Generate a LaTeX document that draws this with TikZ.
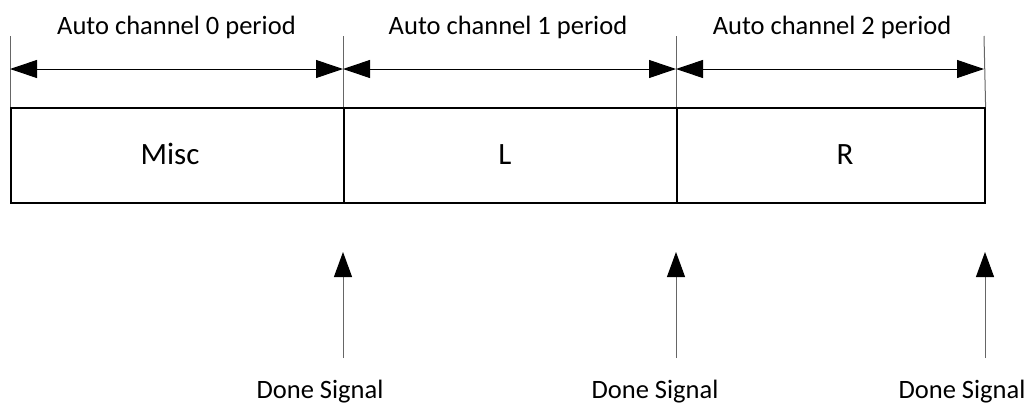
\documentclass[tikz,border=0pt]{standalone}
\usepackage{fontspec}
\setmainfont{Carlito}
\usetikzlibrary{arrows.meta}
\begin{document}
\begin{tikzpicture}[x=1pt,y=-1pt,
  cell/.style={draw, line width=1.6pt, inner sep=0pt, anchor=north west, minimum height=95pt},
  ext/.style={draw=black!60, line width=1pt},
  dim/.style={draw=black, line width=1pt, {Triangle[length=27pt,width=18pt]}-{Triangle[length=27pt,width=18pt]}},
  sig/.style={draw=black!60, line width=1pt, -{Triangle[length=25pt,width=18pt,color=black]}},
  lbl/.style={font=\fontsize{26.5pt}{30pt}\selectfont, inner sep=0pt, anchor=base},
  big/.style={font=\fontsize{31pt}{34pt}\selectfont, inner sep=0pt, anchor=base}]
\useasboundingbox (0,0) rectangle (1028,405);
% cells
\node[cell, minimum width=333pt] (misc) at (10,107) {};
\node[cell, minimum width=333pt] (cl) at (343,107) {};
\node[cell, minimum width=308pt] (cr) at (676,107) {};
\node[big] (tmisc) at (170,164) {Misc};
\node[big] (tl) at (505,164) {L};
\node[big] (tr) at (845,164) {R};
% extension lines
\coordinate (e0) at (10,36);
\coordinate (e1) at (343,36);
\coordinate (e2) at (676,36);
\coordinate (e3) at (984,36);
\draw[ext] (e0) -- (misc.north west);
\draw[ext] (e1) -- (cl.north west);
\draw[ext] (e2) -- (cr.north west);
\draw[ext] (e3) -- (cr.north east);
% dimension arrows
\coordinate (d0) at (10,69);
\coordinate (d1) at (343,69);
\coordinate (d2) at (676,69);
\coordinate (d3) at (984,69);
\draw[dim] (d0) -- (d1);
\draw[dim] (d1) -- (d2);
\draw[dim] (d2) -- (d3);
\node[lbl] (p0) at (176.5,34.5) {Auto channel 0 period};
\node[lbl] (p1) at (508,34.5) {Auto channel 1 period};
\node[lbl] (p2) at (832,34.5) {Auto channel 2 period};
% done signals
\coordinate (s1) at (343,358);
\coordinate (t1) at (343,252);
\coordinate (s2) at (676,358);
\coordinate (t2) at (676,252);
\coordinate (s3) at (985,358);
\coordinate (t3) at (985,252);
\draw[sig] (s1) -- (t1);
\draw[sig] (s2) -- (t2);
\draw[sig] (s3) -- (t3);
\node[lbl] (ds1) at (320,398) {Done Signal};
\node[lbl] (ds2) at (655,398) {Done Signal};
\node[lbl] (ds3) at (962,398) {Done Signal};
\end{tikzpicture}
\end{document}
